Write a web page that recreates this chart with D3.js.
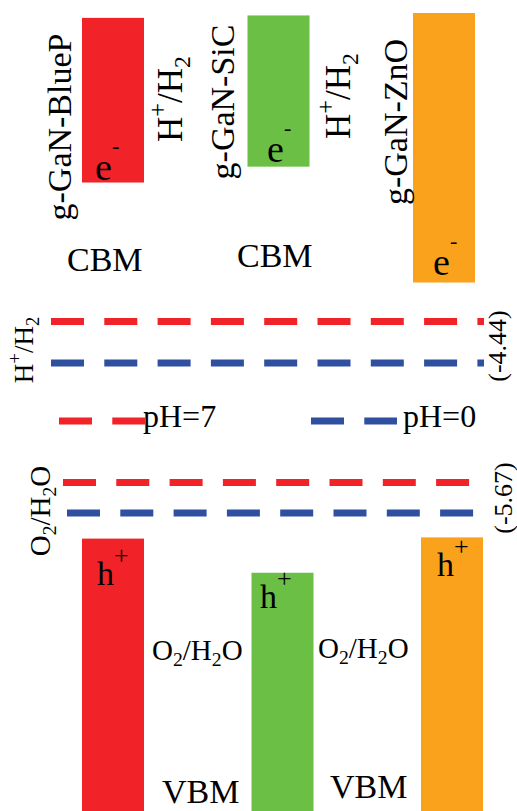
<!DOCTYPE html>
<html>
<head>
<meta charset="utf-8">
<script src="https://cdn.jsdelivr.net/npm/d3@7"></script>
<style>
  html, body { margin: 0; padding: 0; background: #fff; }
  svg { display: block; }
  text { font-family: "Liberation Serif", "DejaVu Serif", serif; fill: #000; }
</style>
</head>
<body>
<svg id="chart"></svg>
<script>
// band edges and redox levels (eV, schematic)
const materials = ["g-GaN-BlueP", "g-GaN-SiC", "g-GaN-ZnO"];
const cbmTop = [-1.61, -1.59, -1.57];
const cbmBottom = [-2.96, -2.83, -3.78];
const vbmTop = [-5.88, -6.16, -5.87];
const vbmBottom = [-8.2, -8.2, -8.2];

const phLabels = ["pH=7", "pH=0"];
const hLevels = [-4.10, -4.44];   // H+/H2
const oLevels = [-5.42, -5.67];   // O2/H2O

const barColors = ["#f22328", "#6abf44", "#fba21c"];
const phColors = ["#f22328", "#2f4fa0"];

const W = 517, H = 811;
const svg = d3.select("#chart").attr("width", W).attr("height", H);

const y = d3.scaleLinear().domain([-4.44, -5.67]).range([363, 513]);

// top (CBM) and bottom (VBM) rows are slightly offset in the figure
const xTop = d3.scaleBand().domain(materials).range([82, 475]).paddingInner(0.6254).paddingOuter(0);
const xBot = d3.scaleBand().domain(materials).range([82, 483]).paddingInner(0.6342).paddingOuter(0);

const rows = materials.map((m, i) => ({
  name: m, color: barColors[i],
  cTop: cbmTop[i], cBot: cbmBottom[i], vTop: vbmTop[i], vBot: vbmBottom[i]
}));

// CBM bars
svg.append("g").selectAll("rect")
  .data(rows)
  .join("rect")
  .attr("x", d => xTop(d.name))
  .attr("width", xTop.bandwidth())
  .attr("y", d => y(d.cTop))
  .attr("height", d => y(d.cBot) - y(d.cTop))
  .attr("fill", d => d.color);

// VBM bars
svg.append("g").selectAll("rect")
  .data(rows)
  .join("rect")
  .attr("x", d => xBot(d.name))
  .attr("width", xBot.bandwidth())
  .attr("y", d => y(d.vTop))
  .attr("height", d => y(d.vBot) - y(d.vTop))
  .attr("fill", d => d.color);

// redox dashed lines
const dash = "33,20.3";
const lines = [
  { v: hLevels[0], c: phColors[0], x1: 51, x2: 484 },
  { v: hLevels[1], c: phColors[1], x1: 51, x2: 484 },
  { v: oLevels[0], c: phColors[0], x1: 63, x2: 470 },
  { v: oLevels[1], c: phColors[1], x1: 67, x2: 474 }
];
svg.append("g").selectAll("line")
  .data(lines)
  .join("line")
  .attr("x1", d => d.x1).attr("x2", d => d.x2)
  .attr("y1", d => y(d.v)).attr("y2", d => y(d.v))
  .attr("stroke", d => d.c)
  .attr("stroke-width", 7)
  .attr("stroke-dasharray", dash);

// legend
const legend = svg.append("g");
[{ x: 59, t: 143 }, { x: 311, t: 403 }].forEach((p, i) => {
  legend.append("line")
    .attr("x1", p.x).attr("x2", p.x + 86)
    .attr("y1", 421).attr("y2", 421)
    .attr("stroke", phColors[i])
    .attr("stroke-width", 7)
    .attr("stroke-dasharray", dash);
  legend.append("text")
    .attr("x", p.t).attr("y", 427)
    .attr("font-size", 32)
    .text(phLabels[i]);
});

// helper: text made of parts with super/subscripts
function richText(g, parts, size) {
  const t = g.append("text").attr("font-size", size);
  let shift = 0;
  parts.forEach(p => {
    const s = t.append("tspan").text(p.t);
    let target = 0;
    if (p.sup) { s.attr("font-size", size * 0.7); target = -size * 0.45; }
    if (p.sub) { s.attr("font-size", size * 0.68); target = size * 0.22; }
    if (p.raise) { s.attr("font-size", p.fs); target = -p.raise; }
    if (target !== shift) { s.attr("dy", target - shift); shift = target; }
  });
  return t;
}

const hh2 = [{ t: "H" }, { t: "+", sup: true }, { t: "/H" }, { t: "2", sub: true }];
const oh2o = [{ t: "O" }, { t: "2", sub: true }, { t: "/H" }, { t: "2", sub: true }, { t: "O" }];

// rotated labels: [x of baseline, y center, parts, size]
const rotated = [
  [71, 127, [{ t: materials[0] }], 34],
  [234, 102, [{ t: materials[1] }], 34],
  [407, 122, [{ t: materials[2] }], 34],
  [182, 99, hh2, 35],
  [350, 96, hh2, 35],
  [33, 350, hh2, 27],
  [50, 511, oh2o, 29],
  [506, 346, [{ t: "(-4.44)" }], 26],
  [512, 498, [{ t: "(-5.67)" }], 26]
];
rotated.forEach(([bx, cy, parts, size]) => {
  const g = svg.append("g").attr("transform", `translate(${bx},${cy}) rotate(-90)`);
  richText(g, parts, size).attr("text-anchor", "middle");
});

// horizontal labels
const flat = [
  [67, 271, [{ t: "CBM" }], 34],
  [237, 267, [{ t: "CBM" }], 34],
  [162, 803, [{ t: "VBM" }], 34],
  [330, 798, [{ t: "VBM" }], 34],
  [152, 660, oh2o, 29],
  [318, 658, oh2o, 29]
];
flat.forEach(([x, yy, parts, size]) => {
  const g = svg.append("g").attr("transform", `translate(${x},${yy})`);
  richText(g, parts, size);
});

// carriers inside the bars
const carriers = [
  [95, 180, "e", "-"], [267, 162, "e", "-"], [433, 275, "e", "-"],
  [97, 585, "h", "+"], [260, 608, "h", "+"], [437, 576, "h", "+"]
];
carriers.forEach(([x, yy, c, s]) => {
  const g = svg.append("g").attr("transform", `translate(${x},${yy})`);
  const sup = c === "e" ? { t: s, raise: 27, fs: 22 } : { t: s, raise: 21, fs: 26 };
  richText(g, [{ t: c }, sup], c === "e" ? 38 : 34);
});
</script>
</body>
</html>
